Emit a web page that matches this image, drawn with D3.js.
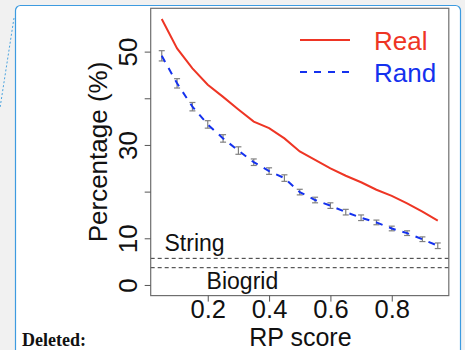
<!DOCTYPE html>
<html><head><meta charset="utf-8">
<script src="https://cdn.jsdelivr.net/npm/d3@7"></script>
<style>
html,body{margin:0;padding:0;background:#f1f1f1;}
svg{display:block;font-family:"Liberation Sans",Arial,Helvetica,sans-serif;}
</style></head>
<body>
<svg id="c" width="465" height="350"></svg>
<script>
// ---- data ----
const rpScores = [0.05,0.10,0.15,0.20,0.25,0.30,0.35,0.40,0.45,0.50,0.55,0.60,0.65,0.70,0.75,0.80,0.85,0.90,0.95];
const realPct  = [57.0,50.7,46.4,42.9,40.3,37.6,35.0,33.6,31.4,28.6,26.8,25.0,23.4,22.0,20.4,19.1,17.5,15.7,13.8];
const randPct  = [49.1,43.2,38.2,34.4,31.4,28.8,26.3,24.4,22.9,19.9,18.2,17.0,15.6,14.4,13.4,12.1,11.1,9.8,8.4];
const randErr  = [1.1,1.0,0.9,0.8,0.8,0.8,0.7,0.7,0.7,0.6,0.6,0.6,0.6,0.6,0.5,0.5,0.5,0.5,0.6];
const refLines = [{name:"String", value:5.7}, {name:"Biogrid", value:3.7}];
const yTicks = [0,10,20,30,40,50];
const yTickLabels = ["0","10","","30","","50"];
const xTicks = [0.2,0.4,0.6,0.8];
const legendItems = ["Real","Rand"];

const RED = "#ee3524", BLUE = "#1431ee";
const svg = d3.select("#c");

// frame
svg.append("line").attr("x1",14).attr("y1",18).attr("x2",0).attr("y2",108)
  .attr("stroke","#4aa3df").attr("stroke-width",1).attr("stroke-dasharray","2,2");
svg.append("rect").attr("x",15.5).attr("y",5.5).attr("width",445).attr("height",350)
  .attr("rx",5).attr("fill","#fff").attr("stroke","#3d9be0").attr("stroke-width",1.2);
svg.append("text").attr("x",22).attr("y",346).text("Deleted:")
  .attr("font-family","'Liberation Serif','Times New Roman',serif").attr("font-weight","bold").attr("font-size",18).attr("fill","#111");

// scales
const x = d3.scaleLinear().domain([0.014,0.986]).range([150.7,448.8]);
const y = d3.scaleLinear().domain([-2.28,59.28]).range([295.6,8.3]);

const g = svg.append("g");

// reference lines
refLines.forEach(r=>{
  g.append("line").attr("x1",x.range()[0]).attr("x2",x.range()[1])
    .attr("y1",y(r.value)).attr("y2",y(r.value))
    .attr("stroke","#333").attr("stroke-width",1).attr("stroke-dasharray","4,3");
});
g.append("text").attr("x",x(0.157)).attr("y",y(7.2)).attr("text-anchor","middle")
  .attr("font-size",23).attr("fill","#111").text(refLines[0].name);
g.append("text").attr("x",x(0.313)).attr("y",y(-0.9)).attr("text-anchor","middle")
  .attr("font-size",23).attr("fill","#111").text(refLines[1].name);

// error bars
const eb = g.append("g").attr("stroke","#808080").attr("stroke-width",1.2);
rpScores.forEach((s,i)=>{
  const cx = x(s), y0 = y(randPct[i]-randErr[i]), y1 = y(randPct[i]+randErr[i]);
  eb.append("line").attr("x1",cx).attr("x2",cx).attr("y1",y0).attr("y2",y1);
  eb.append("line").attr("x1",cx-3).attr("x2",cx+3).attr("y1",y0).attr("y2",y0);
  eb.append("line").attr("x1",cx-3).attr("x2",cx+3).attr("y1",y1).attr("y2",y1);
});

// lines
const line = d3.line().x(d=>x(d[0])).y(d=>y(d[1]));
g.append("path").datum(rpScores.map((s,i)=>[s,realPct[i]])).attr("d",line)
  .attr("fill","none").attr("stroke",RED).attr("stroke-width",2);
g.append("path").datum(rpScores.map((s,i)=>[s,randPct[i]])).attr("d",line)
  .attr("fill","none").attr("stroke",BLUE).attr("stroke-width",2).attr("stroke-dasharray","7,7");

// box
g.append("rect").attr("x",x.range()[0]).attr("y",y.range()[1])
  .attr("width",x.range()[1]-x.range()[0]).attr("height",y.range()[0]-y.range()[1])
  .attr("fill","none").attr("stroke","#6e6e6e").attr("stroke-width",1.2);

// y axis
const ya = svg.append("g").attr("transform",`translate(${x.range()[0]},0)`)
  .call(d3.axisLeft(y).tickValues(yTicks).tickSize(6).tickFormat((d,i)=>yTickLabels[i]));
ya.select(".domain").remove();
ya.selectAll("line").attr("stroke","#555");
ya.selectAll("text").attr("x",null).attr("dy",null).attr("text-anchor","middle")
  .attr("transform","translate(-14,0) rotate(-90)").attr("font-size",26)
  .attr("font-family","'Liberation Sans',Arial,sans-serif").attr("fill","#111");

// x axis
const xa = svg.append("g").attr("transform",`translate(0,${y.range()[0]})`)
  .call(d3.axisBottom(x).tickValues(xTicks).tickSize(6).tickFormat(d3.format(".1f")));
xa.select(".domain").remove();
xa.selectAll("line").attr("stroke","#555");
xa.selectAll("text").attr("y",22.5).attr("dy",null).attr("font-size",25.5)
  .attr("font-family","'Liberation Sans',Arial,sans-serif").attr("fill","#111");

// axis titles
svg.append("text").attr("transform","translate(107,152) rotate(-90)").attr("text-anchor","middle")
  .attr("font-size",26).attr("fill","#111").text("Percentage (%)");
svg.append("text").attr("x",x(0.6)-30).attr("y",346).attr("text-anchor","middle")
  .attr("font-size",25).attr("fill","#111").text("RP score");

// legend
const lg = svg.append("g");
lg.append("line").attr("x1",300).attr("x2",350).attr("y1",40).attr("y2",40)
  .attr("stroke",RED).attr("stroke-width",2);
lg.append("line").attr("x1",300).attr("x2",349).attr("y1",72).attr("y2",72)
  .attr("stroke",BLUE).attr("stroke-width",2).attr("stroke-dasharray","7,7");
lg.append("text").attr("x",374).attr("y",50).attr("font-size",26).attr("fill",RED).text(legendItems[0]);
lg.append("text").attr("x",374).attr("y",82).attr("font-size",26).attr("fill",BLUE).text(legendItems[1]);
</script>
</body></html>
